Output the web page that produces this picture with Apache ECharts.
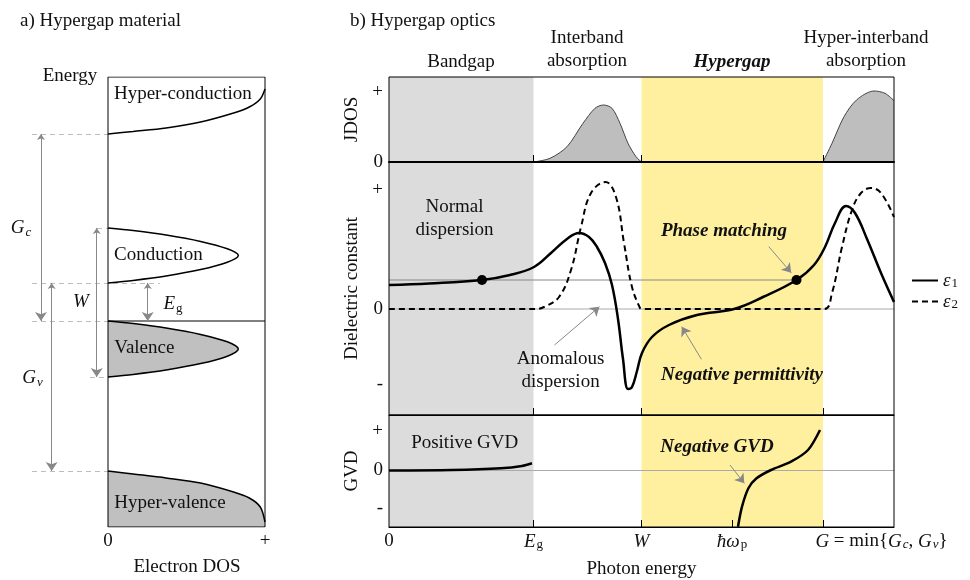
<!DOCTYPE html>
<html><head><meta charset="utf-8">
<script src="https://cdn.jsdelivr.net/npm/echarts@6/dist/echarts.min.js"></script>
<style>html,body{margin:0;padding:0;background:#fff}#c{width:970px;height:580px}</style>
</head><body><div id="c"></div>
<script>
const FONT = '"Liberation Serif","Times New Roman",serif';
const INK = '#111';

// ---------------- Panel a: hypergap material ----------------
const dosRange = [-0.6, 1];
const energyRange = [-20.6, 24.4];
const dosTickValues = [0, 1];
const dosTickLabels = ['0', '+'];
const E_HC = 18.7, E_CT = 9.3, E_CB = 3.8, E_FERMI = 0, E_VB = -5.6, E_HV = -15.0;
const hyperConduction = [[0,18.7],[0.16,18.95],[0.37,19.3],[0.59,19.9],[0.8,20.8],[0.9,21.4],[0.97,22.2],[1,23.2]];
const conduction = [[0,3.8],[0.16,4.06],[0.37,4.5],[0.59,5.14],[0.76,5.88],[0.83,6.55],[0.76,7.22],[0.59,7.96],[0.37,8.6],[0.16,9.04],[0,9.3]];
const valence = [[0,0],[0.16,-0.26],[0.37,-0.7],[0.59,-1.34],[0.76,-2.08],[0.83,-2.8],[0.76,-3.52],[0.59,-4.26],[0.37,-4.9],[0.16,-5.34],[0,-5.6]];
const hyperValence = [[0,-15.0],[0.16,-15.3],[0.37,-15.7],[0.59,-16.2],[0.8,-17.1],[0.9,-17.7],[0.97,-18.6],[1,-20.1]];
const bandNames = ['Hyper-conduction', 'Conduction', 'Valence', 'Hyper-valence'];

// ---------------- Panel b: hypergap optics ----------------
const photonRange = [0, 5.05];
const E_GAP = 1.445, W_EDGE = 2.525, HBAR_WP = 3.43, G_EDGE = 4.34;
const photonTickValues = [0, E_GAP, W_EDGE, HBAR_WP, G_EDGE];
const photonTickLabels = ['0', '{i|E}{s|g}', '{i|W}', '{i|ħω}{s|p}', '{gap| }{i|G}{t| = min{}{i|G}{si|c}{t|, }{i|G}{si|v}}'];
const regionHeaders = ['Bandgap', 'Interband\nabsorption', 'Hypergap', 'Hyper-interband\nabsorption'];

const jdosRange = [0, 0.85];
const jdosTickValues = [0, 0.7];
const jdosTickLabels = ['0', '+'];
const jdosInterband = [[1.445,0],[1.61,0.037],[1.78,0.153],[1.94,0.387],[2.06,0.537],[2.145,0.57],[2.23,0.537],[2.31,0.387],[2.39,0.187],[2.47,0.053],[2.525,0]];
const jdosHyper = [[4.34,0],[4.43,0.187],[4.55,0.453],[4.675,0.62],[4.85,0.71],[4.96,0.687],[5.05,0.613]];

const dielRange = [-1.06, 1.47];
const dielTickValues = [-0.75, 0, 1.19];
const dielTickLabels = ['-', '0', '+'];
const eps1 = [[0,0.24],[0.4,0.255],[0.93,0.29],[1.21,0.34],[1.45,0.42],[1.62,0.56],[1.78,0.70],[1.90,0.76],[2.00,0.72],[2.08,0.62],[2.16,0.46],[2.23,0.24],[2.29,-0.10],[2.34,-0.50],[2.39,-0.80],[2.43,-0.78],[2.48,-0.62],[2.53,-0.44],[2.63,-0.28],[2.80,-0.16],[3.08,-0.06],[3.45,0.0],[3.74,0.12],[4.075,0.29],[4.25,0.44],[4.36,0.62],[4.46,0.86],[4.57,1.03],[4.66,0.96],[4.78,0.70],[4.92,0.36],[5.05,0.07]];
const eps2 = [[0,0],[1.47,0],[1.55,0.02],[1.70,0.12],[1.82,0.39],[1.92,0.82],[2.02,1.16],[2.165,1.27],[2.27,1.12],[2.35,0.66],[2.43,0.22],[2.51,0.01],[2.53,0],[4.35,0],[4.43,0.16],[4.53,0.62],[4.63,0.99],[4.72,1.16],[4.82,1.21],[4.92,1.16],[5.05,0.92]];
const phaseDots = [[0.93,0.29],[4.075,0.29]];

const gvdRange = [-0.565, 0.555];
const gvdTickValues = [-0.375, 0, 0.395];
const gvdTickLabels = ['-', '0', '+'];
const gvdLow = [[0,0],[0.63,0.005],[1.12,0.022],[1.33,0.045],[1.43,0.072]];
const gvdHigh = [[3.49,-0.562],[3.53,-0.362],[3.594,-0.178],[3.675,-0.078],[3.82,0.005],[4.02,0.088],[4.19,0.205],[4.31,0.405]];

// ---------------- helpers ----------------
const rich = {
  i: {fontFamily: FONT, fontSize: 19, fontStyle: 'italic', color: INK},
  s: {fontFamily: FONT, fontSize: 13, color: INK, verticalAlign: 'bottom', lineHeight: 12, padding: [0,0,0,1]},
  si: {fontFamily: FONT, fontSize: 13, fontStyle: 'italic', color: INK, verticalAlign: 'bottom', lineHeight: 12, padding: [0,0,0,1]},
  t: {fontFamily: FONT, fontSize: 19, color: INK},
  gap: {width: 117}
};
const txt = {fontFamily: FONT, fontSize: 19, color: INK};
function mapLabel(vals, labels) { return v => { const k = vals.findIndex(x => Math.abs(x - v) < 1e-6); return k >= 0 ? labels[k] : ''; }; }
function fillSeries(points, color) {
  return { type: 'custom', xAxisIndex: 0, yAxisIndex: 0, silent: true, z: 1, data: [[0, 0]],
    renderItem: (params, api) => ({ type: 'polygon', shape: { points: points.map(p => api.coord(p)) }, style: { fill: color } }) };
}
function stroke(data, xi, opts) {
  return Object.assign({ type: 'line', xAxisIndex: xi, yAxisIndex: xi, data: data, symbol: 'none', silent: true,
    itemStyle: { color: '#000' }, lineStyle: { color: '#000', width: 1.5 } }, opts || {});
}
function arrows(xi, segs, both) {
  return { type: 'lines', coordinateSystem: 'cartesian2d', xAxisIndex: xi, yAxisIndex: xi, silent: true, z: 5,
    symbol: both ? ['arrow', 'arrow'] : ['none', 'arrow'], symbolSize: [6, 9],
    lineStyle: { color: '#888', width: 1, opacity: 1, curveness: 0 },
    data: segs.map(s => ({ coords: s })) };
}
function texts(xi, items) {
  return { type: 'scatter', xAxisIndex: xi, yAxisIndex: xi, symbolSize: 0, silent: true, clip: false, z: 6,
    itemStyle: { opacity: 1 },
    data: items.map(it => ({ value: it.at, label: Object.assign({ show: true, position: 'inside', formatter: it.text,
      fontFamily: FONT, fontSize: 19, color: INK, opacity: 1, lineHeight: 23, rich: rich }, it.style || {}) })) };
}
function bgHost(xi) {
  return { type: 'line', xAxisIndex: xi, yAxisIndex: xi, data: [[0, 0]], symbol: 'none', silent: true, z: 1,
    lineStyle: { width: 0, opacity: 0 },
    markArea: { silent: true, data: [
      [{ xAxis: photonRange[0], itemStyle: { color: '#dcdcdc' } }, { xAxis: E_GAP }],
      [{ xAxis: W_EDGE, itemStyle: { color: '#fff0a0' } }, { xAxis: G_EDGE }]
    ] } };
}
const bold = { fontWeight: 'bold', fontStyle: 'italic' };

const gridB = { left: 389, width: 505 };
const option = {
  animation: false,
  backgroundColor: '#fff',
  grid: [
    { left: 108 + dosRange[0] * 157, top: 77, width: 157 * (dosRange[1] - dosRange[0]), height: 450, show: false },
    { left: gridB.left, width: gridB.width, top: 77, height: 85, show: true, borderColor: '#000', borderWidth: 1, backgroundColor: 'transparent', z: 20 },
    { left: gridB.left, width: gridB.width, top: 162, height: 253, show: true, borderColor: '#000', borderWidth: 1, backgroundColor: 'transparent', z: 20 },
    { left: gridB.left, width: gridB.width, top: 415, height: 112, show: true, borderColor: '#000', borderWidth: 1, backgroundColor: 'transparent', z: 20 }
  ],
  xAxis: [
    { gridIndex: 0, type: 'value', min: dosRange[0], max: dosRange[1], axisLine: { show: false }, axisTick: { show: false }, splitLine: { show: false },
      axisLabel: Object.assign({ customValues: dosTickValues, formatter: mapLabel(dosTickValues, dosTickLabels), margin: 5 }, txt) },
    { gridIndex: 1, type: 'value', min: photonRange[0], max: photonRange[1], z: 25, splitLine: { show: false }, axisLabel: { show: false },
      axisLine: { show: true, onZero: false, lineStyle: { color: '#000', width: 2 } },
      axisTick: { show: true, inside: true, length: 7, customValues: [E_GAP, W_EDGE, G_EDGE], lineStyle: { color: '#000' } } },
    { gridIndex: 2, type: 'value', min: photonRange[0], max: photonRange[1], z: 25, splitLine: { show: false }, axisLabel: { show: false },
      axisLine: { show: true, onZero: false, lineStyle: { color: '#000', width: 1 } },
      axisTick: { show: true, inside: true, length: 7, customValues: [E_GAP, W_EDGE, G_EDGE], lineStyle: { color: '#000' } } },
    { gridIndex: 3, type: 'value', min: photonRange[0], max: photonRange[1], z: 25, splitLine: { show: false },
      axisLine: { show: true, onZero: false, lineStyle: { color: '#000', width: 1 } },
      axisTick: { show: true, inside: true, length: 7, customValues: [E_GAP, W_EDGE, HBAR_WP, G_EDGE], lineStyle: { color: '#000' } },
      axisLabel: Object.assign({ customValues: photonTickValues, formatter: mapLabel(photonTickValues, photonTickLabels), margin: 5, rich: rich, hideOverlap: false }, txt),
      name: 'Photon energy', nameLocation: 'middle', nameGap: 33, nameTextStyle: txt }
  ],
  yAxis: [
    { gridIndex: 0, type: 'value', min: energyRange[0], max: energyRange[1], show: false },
    { gridIndex: 1, type: 'value', min: jdosRange[0], max: jdosRange[1], axisLine: { show: false }, axisTick: { show: false }, splitLine: { show: false },
      axisLabel: Object.assign({ customValues: jdosTickValues, formatter: mapLabel(jdosTickValues, jdosTickLabels), margin: 6 }, txt),
      name: 'JDOS', nameLocation: 'middle', nameGap: 24, nameTextStyle: txt },
    { gridIndex: 2, type: 'value', min: dielRange[0], max: dielRange[1], axisLine: { show: false }, axisTick: { show: false }, splitLine: { show: false },
      axisLabel: Object.assign({ customValues: dielTickValues, formatter: mapLabel(dielTickValues, dielTickLabels), margin: 6 }, txt),
      name: 'Dielectric constant', nameLocation: 'middle', nameGap: 24, nameTextStyle: txt },
    { gridIndex: 3, type: 'value', min: gvdRange[0], max: gvdRange[1], axisLine: { show: false }, axisTick: { show: false }, splitLine: { show: false },
      axisLabel: Object.assign({ customValues: gvdTickValues, formatter: mapLabel(gvdTickValues, gvdTickLabels), margin: 6 }, txt),
      name: 'GVD', nameLocation: 'middle', nameGap: 24, nameTextStyle: txt }
  ],
  legend: {
    orient: 'vertical', left: 906, top: 266, itemWidth: 26, itemHeight: 12, itemGap: 2,
    data: ['eps1', 'eps2'],
    itemStyle: { opacity: 0 },
    formatter: n => n === 'eps1' ? '{i|ε}{s|1}' : '{i|ε}{s|2}',
    textStyle: { fontFamily: FONT, fontSize: 19, color: INK, rich: rich }
  },
  graphic: [
    { type: 'text', style: { text: 'a) Hypergap material', x: 20, y: 21, textVerticalAlign: 'middle', fontFamily: FONT, fontSize: 19, fill: INK } },
    { type: 'text', style: { text: 'b) Hypergap optics', x: 350, y: 21, textVerticalAlign: 'middle', fontFamily: FONT, fontSize: 19, fill: INK } },
    { type: 'text', style: { text: 'Energy', x: 70, y: 76, textAlign: 'center', textVerticalAlign: 'middle', fontFamily: FONT, fontSize: 19, fill: INK } },
    { type: 'text', style: { text: 'Electron DOS', x: 187, y: 567, textAlign: 'center', textVerticalAlign: 'middle', fontFamily: FONT, fontSize: 19, fill: INK } },
    { type: 'text', style: { text: regionHeaders[0], x: 461, y: 62, textAlign: 'center', textVerticalAlign: 'middle', fontFamily: FONT, fontSize: 19, fill: INK } },
    { type: 'text', style: { text: regionHeaders[1], x: 587, y: 50, lineHeight: 23, textAlign: 'center', textVerticalAlign: 'middle', fontFamily: FONT, fontSize: 19, fill: INK } },
    { type: 'text', style: { text: regionHeaders[2], x: 732, y: 62, textAlign: 'center', textVerticalAlign: 'middle', fontFamily: FONT, fontSize: 19, fontWeight: 'bold', fontStyle: 'italic', fill: INK } },
    { type: 'text', style: { text: regionHeaders[3], x: 866, y: 50, lineHeight: 23, textAlign: 'center', textVerticalAlign: 'middle', fontFamily: FONT, fontSize: 19, fill: INK } }
  ],
  series: [
    // ----- panel a -----
    fillSeries(valence, '#c0c0c0'),
    fillSeries(hyperValence.concat([[1, energyRange[0]], [0, energyRange[0]]]), '#c0c0c0'),
    { type: 'lines', coordinateSystem: 'cartesian2d', xAxisIndex: 0, yAxisIndex: 0, silent: true, z: 2,
      lineStyle: { color: '#bdbdbd', width: 1, type: [5, 4], opacity: 1 },
      data: [
        { coords: [[-0.484, E_HC], [0, E_HC]] }, { coords: [[-0.07, E_CT], [0, E_CT]] },
        { coords: [[-0.484, E_CB], [0.33, E_CB]] }, { coords: [[-0.484, E_FERMI], [0, E_FERMI]] },
        { coords: [[-0.115, E_VB], [0, E_VB]] }, { coords: [[-0.484, E_HV], [0, E_HV]] }
      ] },
    stroke(hyperConduction, 0, { smooth: 0.3 }),
    stroke(conduction, 0, { smooth: 0.3 }),
    stroke(valence, 0, { smooth: 0.3 }),
    stroke(hyperValence, 0, { smooth: 0.3 }),
    stroke([[0, energyRange[1]], [1, energyRange[1]], [1, energyRange[0]], [0, energyRange[0]], [0, energyRange[1]]], 0, { lineStyle: { color: '#000', width: 1 } }),
    stroke([[0, E_FERMI], { value: [1, E_FERMI], label: { show: true, position: 'right', distance: 8, formatter: '{i|E}{s|F}', rich: rich } }], 0, { lineStyle: { color: '#000', width: 1.2 } }),
    arrows(0, [
      [[-0.427, E_HC], [-0.427, E_FERMI]], [[-0.359, E_CB], [-0.359, E_HV]],
      [[-0.072, E_CT], [-0.072, E_VB]], [[0.253, E_CB], [0.253, E_FERMI]]
    ], true),
    texts(0, [
      { at: [0.038, 22.66], text: bandNames[0], style: { position: 'right', distance: 0 } },
      { at: [0.038, 6.6], text: bandNames[1], style: { position: 'right', distance: 0 } },
      { at: [0.04, -2.7], text: bandNames[2], style: { position: 'right', distance: 0 } },
      { at: [0.04, -18.2], text: bandNames[3], style: { position: 'right', distance: 0 } },
      { at: [-0.554, 9.3], text: '{i|G}{si|c}' },
      { at: [-0.481, -5.68], text: '{i|G}{si|v}' },
      { at: [-0.172, 1.9], text: '{i|W}' },
      { at: [0.414, 1.73], text: '{i|E}{s|g}' }
    ]),
    // ----- panel b: JDOS -----
    bgHost(1),
    stroke(jdosInterband, 1, { smooth: 0.3, lineStyle: { color: '#444', width: 1 }, areaStyle: { color: '#bebebe', opacity: 1 } }),
    stroke(jdosHyper, 1, { smooth: 0.3, lineStyle: { color: '#444', width: 1 }, areaStyle: { color: '#bebebe', opacity: 1 } }),
    // ----- panel b: dielectric -----
    bgHost(2),
    stroke([[photonRange[0], 0], [photonRange[1], 0]], 2, { lineStyle: { color: '#aaa', width: 1 } }),
    stroke([[photonRange[0], phaseDots[0][1]], phaseDots[1]], 2, { lineStyle: { color: '#888', width: 1 } }),
    stroke(eps2, 2, { name: 'eps2', smooth: 0.4, lineStyle: { color: '#000', width: 2, type: [6, 4] } }),
    stroke(eps1, 2, { name: 'eps1', smooth: 0.4, lineStyle: { color: '#000', width: 2.5 } }),
    { type: 'scatter', xAxisIndex: 2, yAxisIndex: 2, data: phaseDots, symbolSize: 10, itemStyle: { color: '#000', opacity: 1 }, silent: true, z: 4 },
    arrows(2, [
      [[1.655, -0.36], [2.104, 0.023]],
      [[3.798, 0.623], [4.022, 0.363]],
      [[3.124, -0.503], [2.928, -0.177]]
    ], false),
    texts(2, [
      { at: [0.655, 0.90], text: 'Normal\ndispersion' },
      { at: [1.716, -0.615], text: 'Anomalous\ndispersion' },
      { at: [3.35, 0.78], text: 'Phase matching', style: bold },
      { at: [3.53, -0.66], text: 'Negative permittivity', style: bold }
    ]),
    // ----- panel b: GVD -----
    bgHost(3),
    stroke([[photonRange[0], 0], [photonRange[1], 0]], 3, { lineStyle: { color: '#aaa', width: 1 } }),
    stroke(gvdLow, 3, { smooth: 0.3, lineStyle: { color: '#000', width: 2.5 } }),
    stroke(gvdHigh, 3, { smooth: 0.3, lineStyle: { color: '#000', width: 2.5 } }),
    arrows(3, [[[3.41, 0.055], [3.553, -0.128]]], false),
    texts(3, [
      { at: [0.757, 0.278], text: 'Positive GVD' },
      { at: [3.28, 0.238], text: 'Negative GVD', style: bold }
    ])
  ]
};
const chart = echarts.init(document.getElementById('c'), null, { renderer: 'canvas' });
chart.setOption(option);
</script></body></html>
